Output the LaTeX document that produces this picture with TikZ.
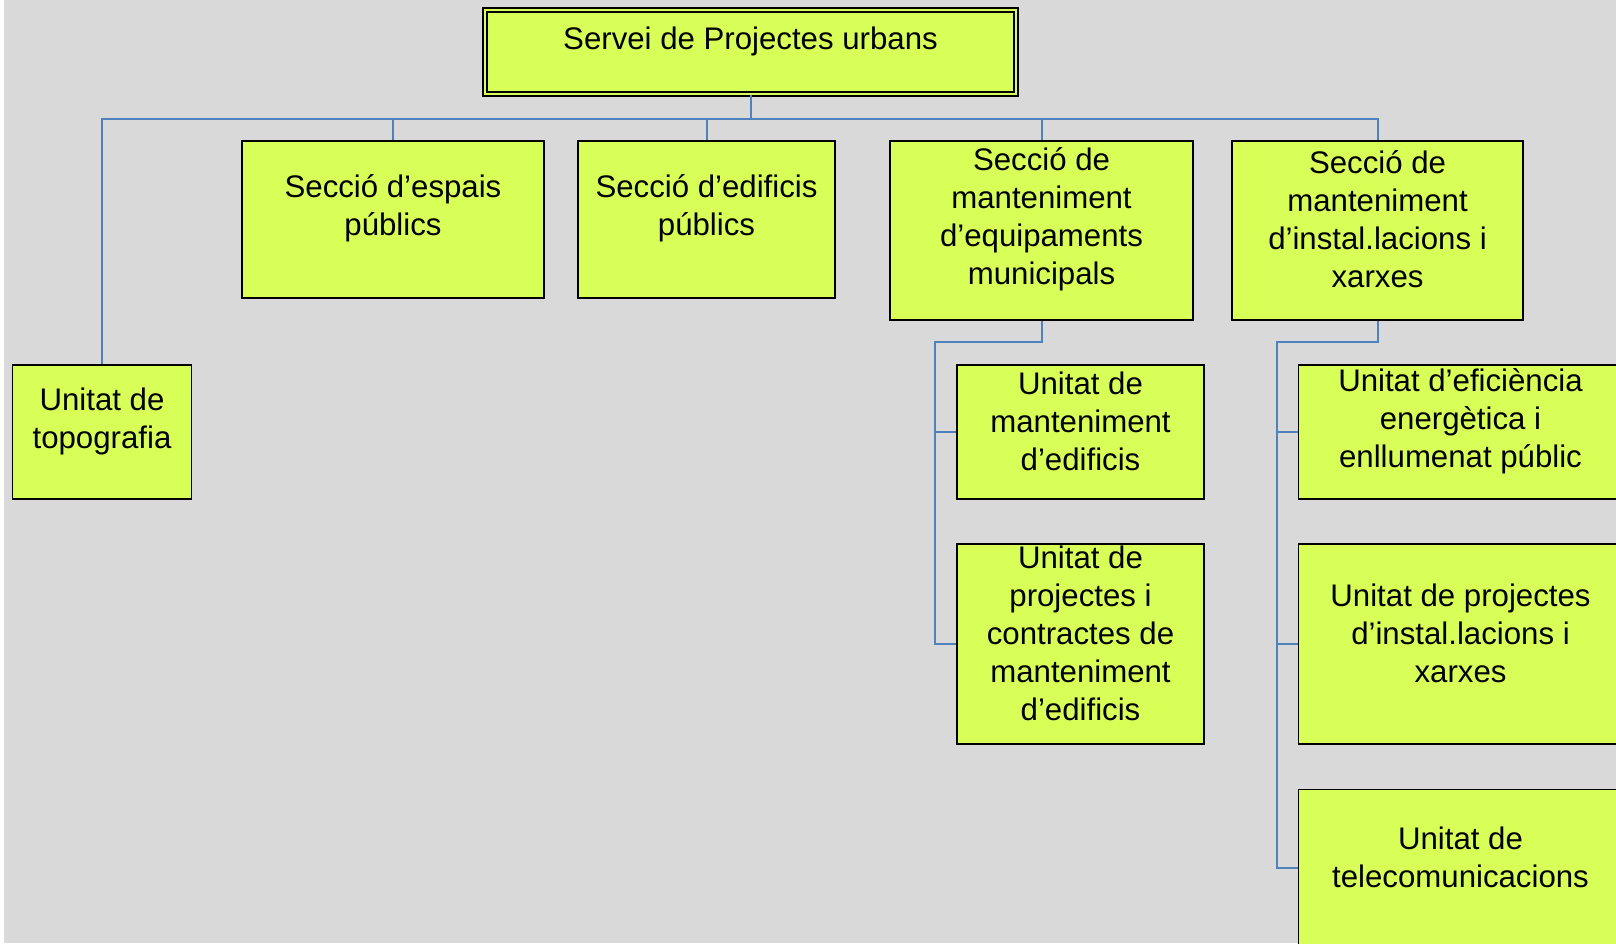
\documentclass[tikz,border=0pt]{standalone}
\usepackage{fontspec}
\setmainfont{Liberation Sans}
\usetikzlibrary{calc}
\definecolor{boxlime}{RGB}{216,255,88}
\definecolor{bggray}{RGB}{217,217,217}
\definecolor{linkblue}{RGB}{79,129,189}
\tikzset{
    unit/.style={draw, line width=0.9pt, fill=boxlime, rectangle, inner sep=0pt},
    txt/.style={align=center, inner sep=0pt, font=\fontsize{15.6}{19}\selectfont},
    link/.style={draw=linkblue, line width=1pt}
}

\begin{document}
\begin{tikzpicture}[x=0.5pt, y=-0.5pt]
    \useasboundingbox (0,0) rectangle (1616,943);
    \clip (0,0) rectangle (1616,943);
    \fill[bggray] (4,0) rectangle (1616,943);

    % boxes (sizes in pt, half the pixel size)
    \node[unit, minimum width=265.5pt, minimum height=42pt, line width=1pt, double=boxlime, double distance=1.2pt] (serv) at (750.5,52) {};
    \node[unit, minimum width=89.5pt, minimum height=67pt] (topo) at (102,432) {};
    \node[unit, minimum width=151pt, minimum height=78.5pt] (espais) at (393,219.5) {};
    \node[unit, minimum width=128.5pt, minimum height=78.5pt] (edificis) at (706.5,219.5) {};
    \node[unit, minimum width=151.5pt, minimum height=89.5pt] (equip) at (1041.5,230.5) {};
    \node[unit, minimum width=145.5pt, minimum height=89.5pt] (inst) at (1377.5,230.5) {};
    \node[unit, minimum width=123.5pt, minimum height=67pt] (uedif) at (1080.5,432) {};
    \node[unit, minimum width=123.5pt, minimum height=100pt] (ucontr) at (1080.5,644) {};
    \node[unit, minimum width=162pt, minimum height=67pt] (uefic) at (1460.5,432) {};
    \node[unit, minimum width=162pt, minimum height=100pt] (uproj) at (1460.5,644) {};
    \node[unit, minimum width=162pt, minimum height=78.5pt] (utel) at (1460.5,868) {};

    % texts
    \node[txt] (serv-t) at ([yshift=5.5pt]serv.center) {Servei de Projectes urbans};
    \node[txt] (topo-t) at ([yshift=5.5pt]topo.center) {Unitat de\\topografia};
    \node[txt] (espais-t) at ([yshift=5.5pt]espais.center) {Secció d’espais\\públics};
    \node[txt] (edificis-t) at ([yshift=5.5pt]edificis.center) {Secció d’edificis\\públics};
    \node[txt] (equip-t) at ([yshift=5.5pt]equip.center) {Secció de\\manteniment\\d’equipaments\\municipals};
    \node[txt] (inst-t) at ([yshift=5.5pt]inst.center) {Secció de\\manteniment\\d’instal.lacions i\\xarxes};
    \node[txt] (uedif-t) at ([yshift=5.5pt]uedif.center) {Unitat de\\manteniment\\d’edificis};
    \node[txt] (ucontr-t) at ([yshift=5.5pt]ucontr.center) {Unitat de\\projectes i\\contractes de\\manteniment\\d’edificis};
    \node[txt] (uefic-t) at ([yshift=5.5pt]uefic.center) {Unitat d’eficiència\\energètica i\\enllumenat públic};
    \node[txt] (uproj-t) at ([yshift=5.5pt]uproj.center) {Unitat de projectes\\d’instal.lacions i\\xarxes};
    \node[txt] (utel-t) at ([yshift=5.5pt]utel.center) {Unitat de\\telecomunicacions};

    % connectors
    \coordinate (bus) at (750.5,119);
    \draw[link] (serv.south) -- (bus);
    \draw[link] (topo.north) |- (bus -| inst.north) -- (inst.north);
    \foreach \n in {espais,edificis,equip}
        \draw[link] (\n.north) -- (\n.north |- bus);

    \coordinate (e-bend) at (935,342);
    \draw[link] (equip.south) |- (e-bend) |- (ucontr.west);
    \draw[link] (uedif.west) -- (uedif.west -| e-bend);

    \coordinate (i-bend) at (1277,342);
    \draw[link] (inst.south) |- (i-bend) |- (utel.west);
    \foreach \n in {uefic,uproj}
        \draw[link] (\n.west) -- (\n.west -| i-bend);
\end{tikzpicture}
\end{document}
